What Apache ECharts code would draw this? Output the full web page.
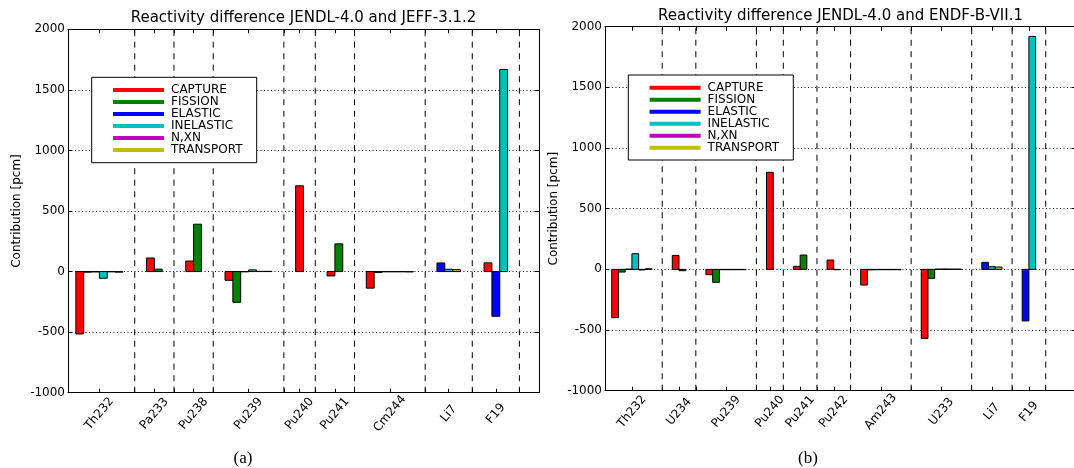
<!DOCTYPE html>
<html><head><meta charset="utf-8">
<script src="https://cdn.jsdelivr.net/npm/echarts@6/dist/echarts.min.js"></script>
<style>html,body{margin:0;padding:0;background:#fff}#c{width:1074px;height:468px}</style>
</head><body><div id="c"></div>
<script>
// ---------- data ----------
const reactions = ['CAPTURE', 'FISSION', 'ELASTIC', 'INELASTIC', 'N,XN', 'TRANSPORT'];

// Panel (a): JENDL-4.0 vs JEFF-3.1.2
const titleA = 'Reactivity difference JENDL-4.0 and JEFF-3.1.2';
const isotopesA = ['Th232', 'Pa233', 'Pu238', 'Pu239', 'Pu240', 'Pu241', 'Cm244', 'Li7', 'F19'];
const captureA   = [-515, 112,  87,  -72, 708, -36, -137, null,   72];
const fissionA   = [  -5,  20, 391, -254, null, 229,  -8, null, null];
const elasticA   = [  -3, null, null,  -2, null, null, -2,   71, -369];
const inelasticA = [ -55, null, null,  14, null, null, -2,   19, 1668];
const nxnA       = [  -2, null, null,   2, null, null, -2, null, null];
const transportA = [  -5, null, null,   2, null, null, -3,   16, null];

// Panel (b): JENDL-4.0 vs ENDF-B-VII.1
const titleB = 'Reactivity difference JENDL-4.0 and ENDF-B-VII.1';
const isotopesB = ['Th232', 'U234', 'Pu239', 'Pu240', 'Pu241', 'Pu242', 'Am243', 'U233', 'Li7', 'F19'];
const captureB   = [-398, 115,  -44, 800,  25,  77, -129, -569, null, null];
const fissionB   = [ -22, -11, -107, null, 118,  -3,   -4,  -74, null, null];
const elasticB   = [   2, null,  -3, null, null, null, -3,    2,   58, -425];
const inelasticB = [ 129, null,  -3, null, null, null, -3,    3,   22, 1920];
const nxnB       = [  -5, null,  -3, null, null, null, -3,    2, null, null];
const transportB = [   5, null,  -3, null, null, null, -3,    2,   19, null];

const yTicks = { min: -1000, max: 2000, interval: 500 };
const yName = 'Contribution [pcm]';
const captions = ['(a)', '(b)'];

// ---------- styling ----------
const colors = ['#ff0000', '#008000', '#0000ff', '#00bfbf', '#bf00bf', '#bfbf00'];
const FONT = 'DejaVu Sans';
const panels = [
  { title: titleA, isotopes: isotopesA,
    table: [captureA, fissionA, elasticA, inelasticA, nxnA, transportA],
    grid: { left: 68, top: 29.3, width: 471, height: 363.4 }, xMax: 60,
    legend: { x: 91.7, y: 77.3, w: 165, h: 85.4 }, caption: { x: 243, y: 459 } },
  { title: titleB, isotopes: isotopesB,
    table: [captureB, fissionB, elasticB, inelasticB, nxnB, transportB],
    grid: { left: 605, top: 26.7, width: 471, height: 364 }, xMax: 70,
    legend: { x: 628.3, y: 75, w: 165, h: 85 }, caption: { x: 808, y: 459 } }
];

const grids = [], xAxes = [], yAxes = [], series = [], legends = [], graphics = [];

panels.forEach((p, gi) => {
  // layout of bars: consecutive unit-wide slots, 3 empty slots between groups
  let pos = 1;
  const centers = [], dividers = [];
  const barData = reactions.map(() => []);
  p.isotopes.forEach((iso, i) => {
    const present = reactions.map((r, ri) => ri).filter(ri => p.table[ri][i] !== null);
    present.forEach((ri, k) => barData[ri].push([pos + k, p.table[ri][i]]));
    centers.push(pos + present.length / 2);
    dividers.push(pos + present.length + 1.5);
    pos += present.length + 3;
  });
  const tickVals = centers.concat(dividers).sort((a, b) => a - b);

  grids.push(Object.assign({ containLabel: false, outerBoundsMode: 'none' }, p.grid));
  const xBase = {
    type: 'value', gridIndex: gi, min: 0, max: p.xMax,
    axisLine: { show: true, onZero: false, lineStyle: { color: '#000', width: 1 } },
    axisTick: { show: true, inside: true, length: 4, customValues: tickVals, lineStyle: { color: '#000' } },
    splitLine: { show: false }
  };
  xAxes.push(Object.assign({}, xBase, {
    position: 'bottom',
    axisLabel: {
      show: true, customValues: centers, rotate: 50, align: 'center', verticalAlign: 'middle',
      margin: 21, fontSize: 12, fontFamily: FONT, color: '#000',
      formatter: v => p.isotopes[centers.indexOf(v)] || ''
    }
  }));
  xAxes.push(Object.assign({}, xBase, { position: 'top', axisLabel: { show: false } }));

  const yBase = {
    type: 'value', gridIndex: gi, min: yTicks.min, max: yTicks.max, interval: yTicks.interval,
    axisLine: { show: true, onZero: false, lineStyle: { color: '#000', width: 1 } },
    axisTick: { show: true, inside: true, length: 4, lineStyle: { color: '#000' } }
  };
  yAxes.push(Object.assign({}, yBase, {
    position: 'left',
    axisLabel: { show: true, margin: 3, fontSize: 12, fontFamily: FONT, color: '#000', formatter: v => String(v) },
    splitLine: { show: true, lineStyle: { color: '#000', width: 1, type: [1, 2.5] } }
  }));
  yAxes.push(Object.assign({}, yBase, { position: 'right', axisLabel: { show: false }, splitLine: { show: false } }));

  const xi = gi * 2, yi = gi * 2;
  // dashed group dividers
  series.push({
    type: 'custom', name: 'div' + gi, xAxisIndex: xi, yAxisIndex: yi, silent: true, z: 1,
    data: dividers.map(d => [d, 0]),
    renderItem: (params, api) => {
      const a = api.coord([api.value(0), yTicks.min]);
      const b = api.coord([api.value(0), yTicks.max]);
      return { type: 'line', shape: { x1: a[0], y1: a[1], x2: b[0], y2: b[1] },
        style: { stroke: '#000', lineWidth: 1, lineDash: [6, 5.5] } };
    }
  });
  // bars
  reactions.forEach((r, ri) => {
    series.push({
      type: 'custom', name: r, xAxisIndex: xi, yAxisIndex: yi, z: 2,
      itemStyle: { color: colors[ri], borderColor: '#000', borderWidth: 1 },
      data: barData[ri],
      renderItem: (params, api) => {
        const x0 = api.value(0), v = api.value(1);
        const p0 = api.coord([x0, 0]);
        const p1 = api.coord([x0 + 1, v]);
        return { type: 'rect',
          shape: { x: p0[0], y: Math.min(p0[1], p1[1]), width: p1[0] - p0[0], height: Math.abs(p1[1] - p0[1]) },
          style: { fill: colors[ri], stroke: '#000', lineWidth: 1 } };
      }
    });
  });

  // legend
  legends.push({
    orient: 'vertical', left: p.legend.x + 21.3, top: p.legend.y + 6.7, padding: 0,
    itemWidth: 51, itemHeight: 4, itemGap: 0, icon: 'rect', selectedMode: false, z: 10,
    itemStyle: { borderWidth: 0 },
    textStyle: { fontSize: 12, fontFamily: FONT, color: '#000', lineHeight: 12, padding: [0, 0, 0, 2] },
    data: reactions.map(r => ({ name: r, icon: 'rect' }))
  });
  graphics.push({ type: 'rect', z: 8, shape: { x: p.legend.x, y: p.legend.y, width: p.legend.w, height: p.legend.h },
    style: { fill: '#fff', stroke: '#000', lineWidth: 1 } });

  // title, axis name, caption
  const cx = p.grid.left + p.grid.width / 2;
  graphics.push({ type: 'text', z: 10, x: cx, y: p.grid.top - 11,
    style: { text: p.title, font: '15px "' + FONT + '"', fill: '#000', textAlign: 'center', textVerticalAlign: 'middle' } });
  graphics.push({ type: 'text', z: 10, x: p.grid.left - 51, y: p.grid.top + p.grid.height / 2, rotation: Math.PI / 2,
    style: { text: yName, font: '12px "' + FONT + '"', fill: '#000', textAlign: 'center', textVerticalAlign: 'middle' } });
  graphics.push({ type: 'text', z: 10, x: p.caption.x, y: p.caption.y,
    style: { text: captions[gi], font: '17px "Liberation Serif"', fill: '#000', textAlign: 'center', textVerticalAlign: 'middle' } });
});

const chart = echarts.init(document.getElementById('c'), null, { renderer: 'canvas' });
chart.setOption({
  animation: false,
  backgroundColor: '#fff',
  grid: grids, xAxis: xAxes, yAxis: yAxes, series: series, legend: legends,
  graphic: { elements: graphics }
});
</script></body></html>
